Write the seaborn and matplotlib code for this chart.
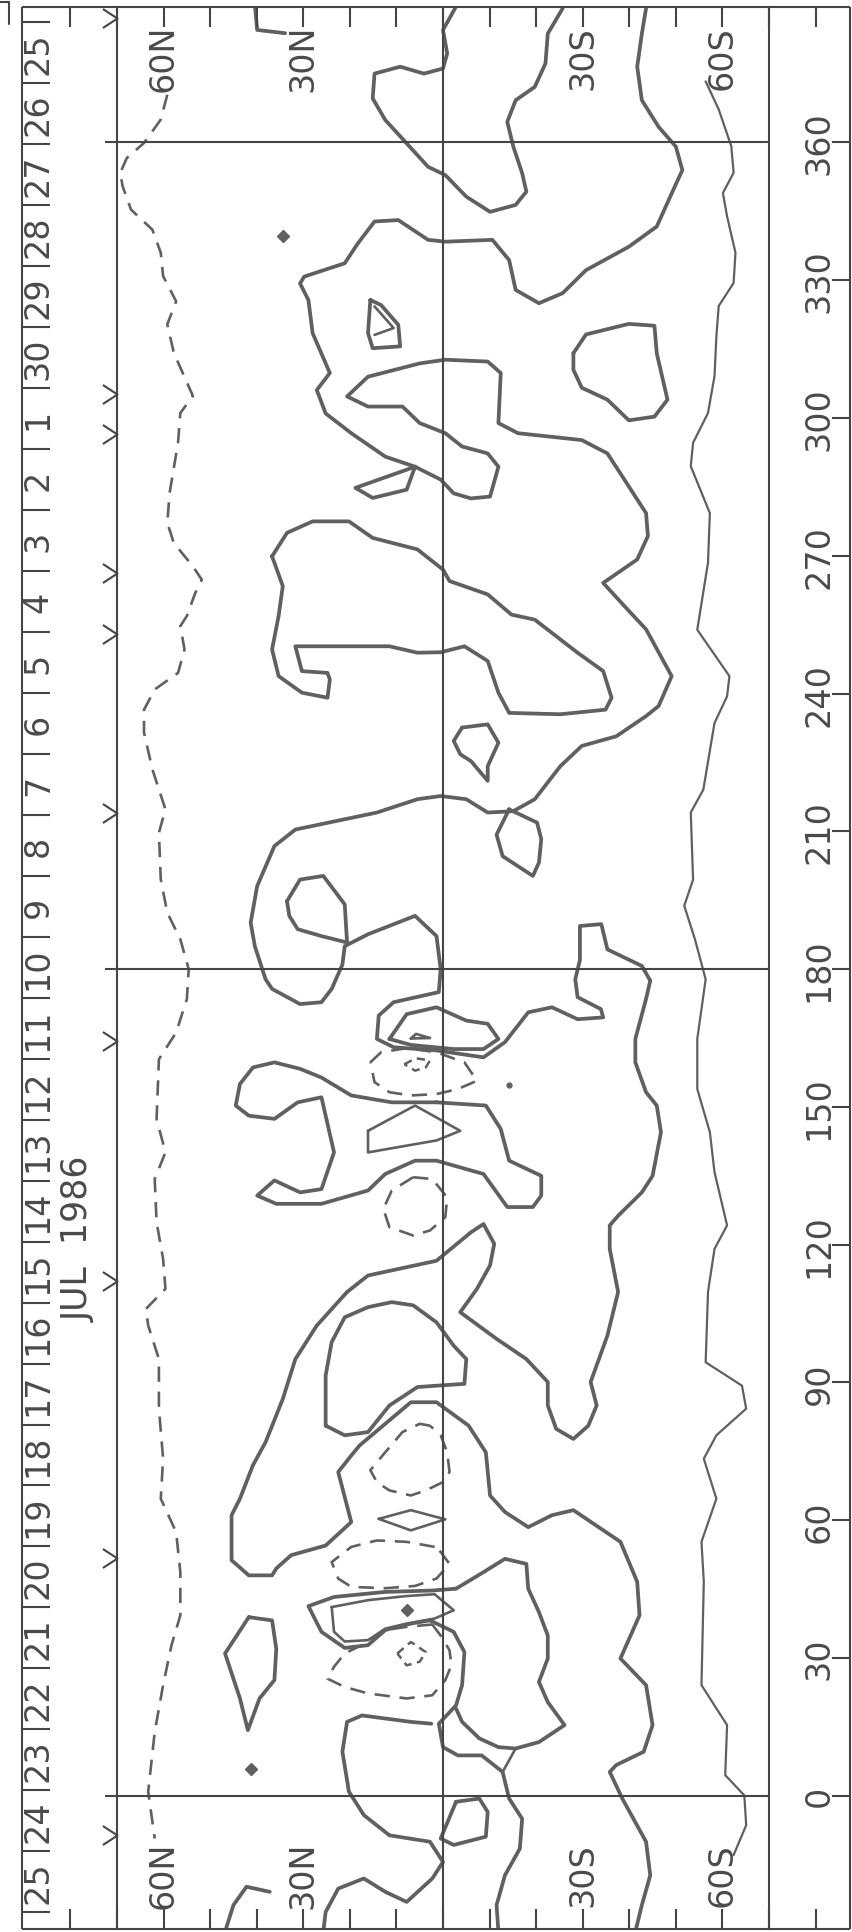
import numpy as np
import matplotlib
matplotlib.use("Agg")
import matplotlib.pyplot as plt
from matplotlib.path import Path
from matplotlib.lines import Line2D
import seaborn as sns

# ---- data: (latitude, Carrington longitude) ----
date_labels = ["25", "26", "27", "28", "29", "30"] + [str(d) for d in range(1, 26)]
date_lon_first, date_lon_last = 379.5, -18.7
marker_lons = [387.1, 305.2, 296.6, 266.3, 252.9, 214.0, 164.4, 112.1, 51.7, -8.6]
lat_ticks = list(range(80, -81, -10))
lat_label_vals = [60, 30, -30, -60]
lat_label_txt = ["60N", "30N", "30S", "60S"]
lon_ticks = list(range(0, 361, 30))

# negative (dashed) contours
neg_north = [(59.2, 370.4), (60.6, 365.0), (64.2, 359.9), (67.9, 356.6), (69.3, 353.4), (68.8, 350.5),
             (67.0, 345.4), (62.4, 341.0), (60.6, 336.0), (60.1, 330.9), (57.3, 325.4), (59.2, 320.4),
             (57.8, 314.2), (53.7, 304.8), (56.4, 301.1), (56.9, 294.6), (58.7, 283.7), (59.2, 277.2),
             (57.8, 272.8), (53.7, 267.7), (51.8, 264.8), (53.2, 261.9), (55.0, 256.9), (56.4, 254.7),
             (55.5, 249.6), (56.9, 244.5), (61.9, 240.9), (64.2, 236.5), (64.2, 231.5), (62.4, 223.5),
             (59.6, 214.8), (61.0, 209.7), (60.6, 199.5), (59.2, 192.3), (56.4, 186.5), (54.6, 180.0),
             (55.0, 173.5), (57.3, 166.2), (61.0, 160.4), (61.5, 147.4), (59.6, 140.1), (61.9, 134.3),
             (61.5, 124.9), (60.1, 116.9), (59.6, 110.4), (63.8, 106.0), (63.3, 102.4), (61.0, 95.1),
             (61.0, 84.3), (60.1, 73.4), (60.6, 64.7), (57.3, 57.4), (56.4, 48.7), (56.4, 39.3),
             (58.3, 32.8), (60.1, 24.1), (61.9, 13.9), (63.3, 0.9), (61.9, -9.3)]
neg_160 = [(15.6, 159.7), (13.3, 161.9), (7.8, 162.8), (1.4, 161.9), (-4.6, 159.7), (-7.3, 155.7),
           (-3.2, 153.9), (1.4, 152.8), (6.9, 152.5), (11.5, 153.2), (14.7, 155.4), (15.6, 159.7)]
neg_160_core = [(8.3, 159.3), (5.8, 160.6), (2.8, 160.1), (3.7, 158.6), (6.0, 157.9), (8.3, 159.3)]
neg_128 = [(6.4, 134.7), (2.3, 134.3), (-0.9, 130.3), (-0.5, 126.0), (2.8, 123.1), (6.4, 122.0),
           (11.5, 123.8), (12.8, 127.8), (11.0, 131.8), (6.4, 134.7)]
neg_72 = [(2.8, 80.6), (5.0, 81.0), (8.7, 79.2), (12.4, 74.8), (15.6, 70.9), (14.2, 68.3), (11.5, 66.5),
          (6.9, 65.4), (3.7, 66.5), (0.0, 68.3), (-1.4, 70.5), (-0.9, 74.8), (0.5, 78.5), (2.8, 80.6)]
neg_50 = [(1.8, 54.2), (7.8, 55.3), (14.2, 55.6), (19.7, 54.2), (23.9, 50.9), (22.5, 47.3), (19.7, 45.5),
          (12.4, 45.2), (6.0, 45.7), (1.4, 47.3), (-1.4, 50.5), (0.5, 53.1), (1.8, 54.2)]
neg_30 = [(2.3, 37.3), (7.8, 36.8), (12.4, 36.1), (16.1, 33.5), (21.1, 31.0), (23.4, 28.1), (24.8, 25.5),
          (21.1, 23.7), (16.1, 22.3), (7.8, 21.2), (2.3, 21.9), (-0.5, 25.2), (-1.8, 28.4), (-1.4, 31.7),
          (0.5, 34.9), (2.3, 37.3)]
neg_30_core = [(9.8, 31.0), (6.9, 33.5), (3.7, 31.3), (5.0, 29.2), (7.8, 28.4), (9.8, 31.0)]

# thin southern line
south_edge = [(-56.4, 373.3), (-59.2, 367.2), (-61.9, 359.2), (-62.4, 353.4), (-60.1, 349.0), (-61.0, 343.9),
              (-62.8, 336.0), (-62.4, 329.4), (-59.2, 324.4), (-58.7, 317.8), (-58.3, 309.1), (-56.9, 301.1),
              (-53.7, 294.6), (-53.2, 289.5), (-57.3, 279.3), (-56.9, 268.5), (-54.6, 253.9), (-61.5, 243.8),
              (-61.0, 239.4), (-58.3, 233.6), (-55.9, 219.1), (-53.2, 214.1), (-53.7, 199.5), (-51.8, 193.8),
              (-54.1, 186.5), (-56.4, 177.8), (-54.6, 164.8), (-54.6, 153.9), (-57.3, 144.5), (-58.3, 135.8),
              (-61.0, 124.2), (-58.3, 119.1), (-56.9, 109.7), (-56.4, 94.4), (-64.2, 89.3), (-65.1, 84.3),
              (-58.7, 78.5), (-56.0, 73.4), (-58.7, 64.7), (-55.5, 55.3), (-56.0, 46.6), (-55.5, 24.1),
              (-61.0, 15.4), (-60.6, 4.5), (-64.7, 0.1), (-65.1, -6.4), (-62.4, -12.9)]

# positive (solid) contours
arc_top = [(-2.8, 389.6), (0.0, 384.5), (-0.9, 379.4), (0.0, 376.1), (4.1, 375.0), (9.2, 376.5), (14.7, 375.0),
           (15.1, 369.6), (12.4, 364.9), (7.8, 359.8), (3.2, 354.7), (-0.5, 352.9), (-5.0, 348.2),
           (-10.1, 344.9), (-15.6, 346.4), (-17.9, 349.3), (-17.0, 353.3), (-15.1, 359.1), (-13.8, 364.5),
           (-15.6, 369.2), (-19.7, 372.1), (-22.0, 377.2), (-22.5, 383.7), (-25.7, 389.2)]
band_upper = [(-43.6, 389.2), (-42.7, 383.7), (-41.7, 376.5), (-42.7, 369.2), (-46.3, 363.4), (-50.0, 359.1),
              (-51.4, 354.0), (-49.1, 348.9), (-45.9, 341.7), (-39.9, 337.3), (-30.7, 332.2), (-25.7, 327.2),
              (-20.6, 325.0), (-15.6, 327.9), (-14.2, 334.4), (-10.6, 338.8), (-0.5, 338.4), (3.2, 338.8),
              (9.6, 343.1), (14.7, 342.8), (18.3, 338.0), (21.1, 333.7), (29.8, 330.8), (30.7, 329.3),
              (28.9, 325.7), (28.0, 318.5), (24.3, 309.8), (27.1, 306.1), (25.2, 301.0), (19.7, 296.7),
              (12.4, 291.6), (6.0, 289.4), (0.5, 286.6), (-2.3, 283.6), (-6.0, 282.5), (-10.1, 282.9),
              (-11.9, 289.4), (-9.6, 292.3), (-4.1, 293.8), (-0.5, 296.7), (5.0, 298.9), (8.7, 302.5),
              (16.1, 302.5), (20.6, 304.7), (16.1, 309.0), (5.0, 311.9), (-0.5, 312.7), (-9.6, 312.3),
              (-12.4, 309.8), (-11.9, 298.9), (-16.1, 296.7), (-29.8, 295.2), (-35.3, 292.3), (-39.9, 285.1),
              (-43.6, 279.3), (-44.0, 274.3), (-41.7, 269.2), (-34.4, 264.1), (-39.0, 259.0), (-43.6, 254.0),
              (-49.1, 243.8), (-46.3, 237.3), (-43.6, 235.1), (-37.2, 230.7), (-29.8, 228.6), (-25.2, 224.2),
              (-19.7, 217.0), (-15.1, 214.4), (-9.6, 214.1), (-5.0, 217.0), (0.5, 217.7), (5.5, 217.0),
              (14.2, 214.1), (31.7, 210.4), (36.2, 206.8), (39.9, 198.1), (41.3, 190.1), (40.4, 185.0),
              (38.1, 177.8), (36.7, 175.7), (30.7, 172.4), (26.1, 172.8), (23.9, 175.7), (21.6, 181.0),
              (21.1, 185.0), (16.1, 187.6), (6.0, 191.6), (1.4, 187.2), (0.5, 180.0), (0.9, 175.0),
              (10.6, 172.8), (13.8, 169.9), (14.2, 164.8), (10.6, 163.0), (1.4, 162.3), (-8.7, 160.8),
              (-13.3, 164.1), (-18.3, 170.6), (-23.4, 171.7), (-28.9, 169.1), (-34.4, 169.5), (-33.9, 171.3),
              (-28.9, 173.9), (-28.4, 177.8), (-29.4, 182.0), (-29.4, 189.4), (-34.0, 189.8), (-35.3, 184.3),
              (-42.7, 180.7), (-44.5, 177.5)]
band_lower = [(-44.5, 177.5), (-43.6, 173.5), (-41.3, 164.8), (-41.3, 159.7), (-43.6, 153.2), (-45.9, 150.3),
              (-46.8, 144.5), (-45.0, 135.0), (-42.7, 131.4), (-37.6, 126.3), (-35.8, 124.2), (-35.8, 119.1),
              (-37.6, 109.7), (-35.3, 100.2), (-31.7, 90.1), (-33.0, 85.0), (-31.2, 80.6), (-28.0, 77.7),
              (-24.3, 79.9), (-22.5, 85.0), (-22.5, 90.1), (-17.9, 95.1), (-11.5, 99.5), (-3.7, 105.3),
              (-7.3, 110.4), (-10.1, 115.5), (-11.0, 120.2), (-8.7, 124.5), (-6.0, 122.7), (1.4, 116.5),
              (16.1, 113.3), (20.6, 109.7), (27.1, 102.4), (31.7, 95.1), (34.4, 86.4), (38.1, 77.0),
              (40.8, 72.0), (43.6, 64.7), (45.4, 61.1), (45.4, 51.3), (41.7, 48.0), (36.7, 48.0), (35.8, 49.5),
              (32.6, 52.4), (25.2, 54.5), (19.7, 59.6), (22.5, 70.5), (19.7, 74.1), (17.9, 76.3), (12.4, 81.0),
              (6.9, 85.7), (1.4, 85.7), (-5.5, 80.6), (-9.2, 74.8), (-10.1, 65.4), (-13.3, 61.8), (-18.3, 58.5),
              (-23.4, 61.1), (-28.0, 62.2), (-38.1, 55.3), (-41.7, 46.6), (-42.2, 39.3), (-38.1, 29.9),
              (-43.6, 24.1), (-45.0, 15.4), (-43.1, 9.6), (-37.2, 6.7), (-35.8, 5.2), (-38.5, -0.6),
              (-43.6, -10.0), (-44.5, -17.3), (-42.7, -23.8), (-41.3, -29.6)]
bowtie_287 = [(6.0, 289.4), (18.8, 284.8), (15.1, 282.6), (7.8, 284.4), (6.0, 289.4)]
tri_320 = [(15.6, 325.7), (13.3, 324.6), (9.6, 320.3), (9.2, 315.6), (15.1, 315.2), (16.1, 318.5), (15.6, 325.7)]
tri_320_in = [(14.7, 324.3), (10.6, 319.6), (14.7, 318.1)]
loop_310 = [(-28.0, 314.1), (-30.7, 318.2), (-39.9, 320.5), (-45.4, 320.1), (-45.9, 314.1), (-48.2, 304.0),
            (-45.4, 300.3), (-39.9, 299.5), (-35.3, 304.0), (-29.8, 306.6), (-28.0, 310.5), (-28.0, 314.1)]
cap_260 = [(36.7, 269.9), (33.5, 275.0), (28.0, 277.5), (20.2, 277.5), (15.1, 273.9), (5.5, 271.4), (0.0, 267.0),
           (-1.4, 264.5), (-9.6, 261.6), (-14.7, 257.2), (-19.7, 256.1), (-28.9, 248.9), (-34.4, 244.9),
           (-36.2, 239.1), (-34.9, 236.5), (-25.2, 235.5), (-14.2, 235.8), (-11.9, 240.2), (-9.6, 247.1),
           (-4.6, 250.3), (0.5, 249.0), (5.5, 248.9), (11.5, 250.3), (31.7, 250.3), (30.3, 244.9),
           (24.8, 244.5), (24.3, 243.1), (24.8, 239.1), (30.3, 240.2), (35.3, 243.8), (36.7, 249.6),
           (35.3, 256.9), (34.4, 263.4), (36.7, 269.9)]
loop_228 = [(-4.1, 232.6), (-9.6, 233.3), (-11.9, 229.3), (-9.6, 224.2), (-9.6, 221.0), (-6.0, 225.3),
            (-3.7, 226.8), (-2.3, 229.7), (-4.1, 232.6)]
loop_208 = [(-14.2, 214.8), (-20.2, 211.9), (-21.1, 208.3), (-20.6, 203.2), (-19.3, 200.3), (-12.8, 204.6),
            (-11.5, 209.3), (-14.2, 214.8)]
loop_193 = [(33.5, 194.8), (30.7, 199.5), (25.7, 200.3), (21.1, 194.1), (20.6, 185.8), (26.1, 187.2),
            (31.2, 188.7), (33.0, 191.6), (33.5, 194.8)]
loop_167 = [(11.5, 164.8), (7.8, 170.2), (1.4, 171.7), (-5.0, 168.8), (-9.6, 168.1), (-11.9, 164.8),
            (-8.7, 162.6), (-2.3, 162.6), (6.9, 163.5), (11.5, 164.8)]
speck_165 = [(6.9, 164.9), (2.8, 165.0), (5.8, 165.9), (6.9, 164.9)]
hook_140 = [(1.4, 151.0), (11.0, 151.0), (19.7, 152.5), (26.1, 156.4), (30.7, 158.3), (36.2, 159.7),
            (40.8, 158.6), (43.6, 155.0), (44.5, 150.3), (41.7, 148.1), (36.2, 147.4), (31.2, 151.0),
            (26.1, 152.1), (23.4, 140.1), (26.1, 132.1), (30.7, 131.4), (36.2, 134.0), (39.9, 130.7),
            (35.8, 128.9), (26.1, 128.9), (16.1, 131.8), (12.4, 135.4), (6.0, 138.3), (1.4, 138.3),
            (-8.7, 135.4), (-13.8, 128.2), (-19.3, 128.2), (-21.1, 130.7), (-21.1, 135.0), (-14.2, 138.3),
            (-12.4, 145.2), (-9.2, 150.3), (1.4, 151.0)]
tri_145 = [(16.1, 144.8), (6.0, 150.3), (-3.7, 144.8), (1.4, 142.7), (16.1, 140.1), (16.1, 144.8)]
loop_95 = [(25.2, 80.6), (25.2, 91.5), (23.9, 98.8), (21.1, 104.2), (16.1, 106.4), (11.0, 107.5), (6.4, 106.8),
           (1.4, 103.1), (-2.3, 98.0), (-5.0, 95.1), (-4.6, 89.7), (1.4, 89.3), (5.5, 89.0), (11.5, 85.0),
           (16.1, 79.2), (21.1, 78.5), (25.2, 80.6)]
diamond_60 = [(13.8, 60.3), (6.9, 62.2), (-0.5, 60.2), (6.9, 57.8), (13.8, 60.3)]
loop_40_out = [(-2.8, 45.1), (2.3, 44.7), (12.4, 44.4), (23.4, 43.3), (28.9, 41.3), (26.1, 35.7), (21.1, 32.2),
               (16.1, 32.8), (12.4, 36.1), (6.9, 37.5), (2.8, 38.2)]
loop_40_in = [(23.9, 41.1), (16.1, 42.6), (7.8, 43.5), (1.8, 43.9), (-2.3, 40.4), (1.8, 38.6), (7.8, 37.5),
              (12.4, 36.4), (16.1, 33.9), (21.1, 33.6), (23.4, 35.7), (23.9, 41.1)]
lobe_30 = [(-2.8, 45.1), (-8.7, 48.7), (-13.3, 51.6), (-17.9, 50.5), (-18.3, 45.1), (-20.6, 40.0), (-22.5, 34.9),
           (-22.5, 29.9), (-20.6, 24.8), (-22.5, 20.4), (-26.1, 15.4), (-20.6, 11.7), (-15.6, 10.3),
           (-11.9, 10.6), (-7.8, 12.5), (-4.1, 16.1), (-2.8, 19.0)]
tail_0 = [(2.8, 38.2), (-2.3, 35.7), (-4.6, 31.3), (-4.1, 24.1), (-2.8, 19.7), (0.9, 15.7), (0.0, 10.6),
          (-3.2, 8.8), (-8.3, 8.8), (-12.8, 5.2), (-14.2, -0.6), (-17.0, -5.0), (-16.5, -11.5), (-13.3, -17.3),
          (-11.5, -23.8), (-11.9, -29.6)]
link_8 = [(-15.6, 10.3), (-12.8, 5.2)]
arm_0 = [(2.5, 15.7), (6.9, 16.1), (17.4, 17.5), (20.6, 16.1), (21.6, 9.6), (20.2, 0.9), (17.0, -4.2),
         (11.5, -8.6), (2.8, -10.0), (1.4, -12.2), (0.0, -14.4), (2.3, -18.0), (7.8, -23.1), (12.4, -20.9),
         (17.0, -18.0), (22.5, -20.2), (25.2, -25.3), (25.7, -29.6)]
loop_m5 = [(-2.8, -1.3), (-7.8, -0.6), (-9.6, -3.5), (-9.2, -8.9), (-2.3, -10.7), (0.5, -9.3), (-2.8, -1.3)]
spindle_28 = [(41.7, 38.9), (36.7, 38.2), (35.8, 32.0), (36.2, 25.2), (39.4, 21.2), (41.9, 14.3), (43.6, 21.2),
              (46.8, 31.0), (41.7, 38.9)]
hook_bottom = [(46.8, -29.6), (45.0, -23.8), (42.2, -19.8), (37.2, -20.9)]
hook_top = [(40.4, 390.0), (39.9, 384.5), (33.9, 383.8)]
dots = [(34.4, 339.6), (41.3, 5.9), (7.8, 40.4)]
speck = [(-14.2, 154.8)]

# ---- styling ----
sns.set_theme(style="white")
plt.rcParams["font.family"] = ["DejaVu Sans"]
plt.rcParams["lines.scale_dashes"] = False

INK = "#606060"
FRAME = "#454545"
TXT = "#4a4a4a"
FS = 24

LAT_N, LAT_S = 70, -70
LON_LO, LON_HI = -29.0, 389.5
OUT_L, OUT_R = 90.4, -87.4      # outer left border / right axis line, in latitude units

fig = plt.figure(figsize=(8.53, 19.33), dpi=100)
ax = fig.add_axes([117 / 853, 3 / 1933, 652 / 853, 1922 / 1933])


def trace(points, lw=2.0, ls="-"):
    lat, lon = zip(*points)
    sns.lineplot(x=list(lat), y=list(lon), sort=False, estimator=None, ax=ax,
                 color=INK, linewidth=lw, linestyle=ls)


dash = (0, (11, 7))
for pts in [neg_north, neg_160, neg_128, neg_72, neg_50, neg_30]:
    trace(pts, lw=1.9, ls=dash)
for pts in [neg_160_core, neg_30_core]:
    trace(pts, lw=1.8, ls=(0, (6, 4)))

trace(south_edge, lw=1.6)

for pts in [arc_top, band_upper, band_lower, bowtie_287, tri_320, loop_310, cap_260, loop_228,
            loop_208, loop_193, loop_167, hook_140, loop_95, loop_40_out, lobe_30, tail_0, arm_0,
            loop_m5, spindle_28, hook_bottom, hook_top]:
    trace(pts, lw=2.7)
for pts in [tri_320_in, speck_165, tri_145, diamond_60, loop_40_in, link_8]:
    trace(pts, lw=1.9)

dlat, dlon = zip(*dots)
ax.plot(dlat, dlon, ls="none", marker="D", ms=6, color=INK)
slat, slon = zip(*speck)
ax.plot(slat, slon, ls="none", marker="o", ms=3.5, color=INK)

ax.set_xlim(LAT_N, LAT_S)
ax.set_ylim(LON_LO, LON_HI)
ax.set_xticks([])
ax.set_yticks([])
ax.set_xlabel("")
ax.set_ylabel("")
for side in ["left", "right"]:
    ax.spines[side].set_color(FRAME)
    ax.spines[side].set_linewidth(1.5)
for side in ["top", "bottom"]:
    ax.spines[side].set_visible(False)

line_kw = dict(color=FRAME, lw=1.5, clip_on=False, solid_capstyle="butt")

# grid: equator and the 0/180/360 meridians
ax.plot([0, 0], [LON_LO, LON_HI], **line_kw)
for lon in [0, 180, 360]:
    ax.plot([72.5, LAT_S], [lon, lon], **line_kw)

# outer frame of the strip layout
ax.plot([OUT_L, OUT_R], [LON_HI, LON_HI], **line_kw)
ax.plot([OUT_L, OUT_R], [LON_LO, LON_LO], **line_kw)
ax.plot([OUT_L, OUT_L], [LON_LO, LON_HI], **line_kw)
ax.plot([OUT_R, OUT_R], [LON_LO, LON_HI], **line_kw)

# latitude ticks along top and bottom, with labels
tick_len = 4.4
for lat in lat_ticks:
    ax.plot([lat, lat], [LON_HI, LON_HI - tick_len], **line_kw)
    ax.plot([lat, lat], [LON_LO, LON_LO + tick_len], **line_kw)
for lat, txt in zip(lat_label_vals, lat_label_txt):
    for lon in [378.5, -17.0]:
        ax.text(lat, lon, txt, rotation=90, ha="center", va="center", fontsize=FS,
                color=TXT, clip_on=False)

# longitude ticks on the right axis
for lon in lon_ticks:
    ax.plot([-83.6, OUT_R], [lon, lon], **line_kw)
    ax.text(-80.8, lon, str(lon), rotation=90, ha="center", va="center", fontsize=FS,
            color=TXT, clip_on=False)

# date strip
date_lons = np.linspace(date_lon_first, date_lon_last, len(date_labels))
step = date_lons[0] - date_lons[1]
for lab, lon in zip(date_labels, date_lons):
    ax.text(86.9, lon, lab, rotation=90, ha="center", va="center", fontsize=FS,
            color=TXT, clip_on=False)
for lon in np.append(date_lons + step / 2, date_lons[-1] - step / 2):
    ax.plot([OUT_L, 84.4], [lon, lon], **line_kw)
ax.text(78.2, 121.5, "JUL  1986", rotation=90, ha="center", va="center", fontsize=FS + 1,
        color=TXT, clip_on=False)

# chevron markers on the left frame edge
chev = Path([(-1.0, 0.65), (0.0, 0.0), (-1.0, -0.65)], [Path.MOVETO, Path.LINETO, Path.LINETO])
ax.plot([LAT_N] * len(marker_lons), marker_lons, ls="none", marker=chev, ms=21,
        mfc="none", mec=FRAME, mew=1.5, clip_on=False)

# corner mark of the neighbouring panel
fig.add_artist(Line2D([0.0, 0.011], [0.9985, 0.9985], color=FRAME, lw=1.5))
fig.add_artist(Line2D([0.011, 0.011], [0.9985, 0.987], color=FRAME, lw=1.5))

fig.savefig("out.png", dpi=100, facecolor="white")
